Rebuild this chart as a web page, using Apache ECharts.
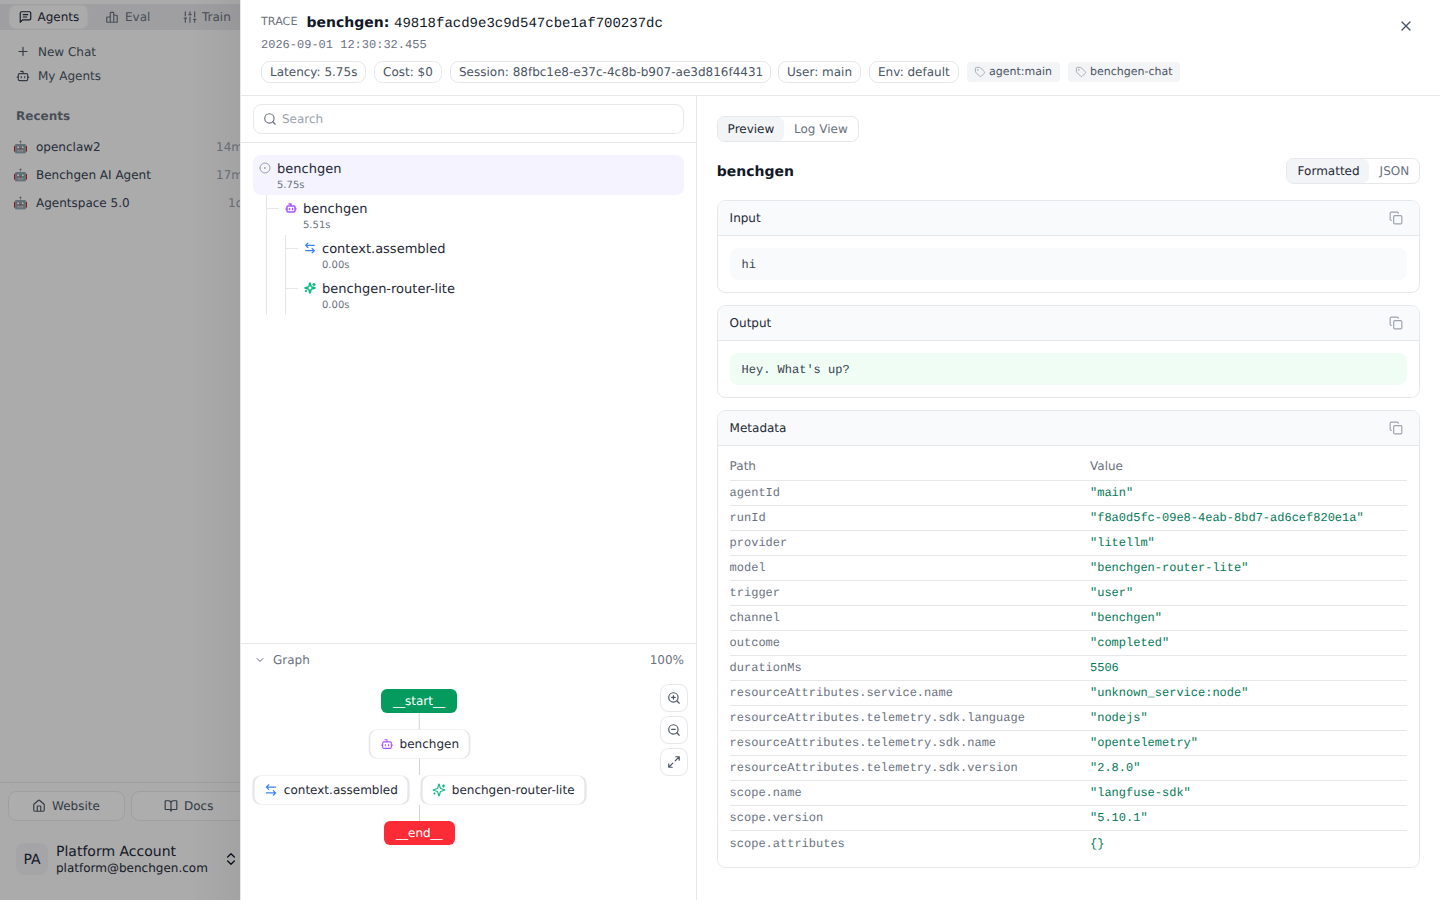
<!DOCTYPE html>
<html><head><meta charset="utf-8"><title>Trace</title>
<style>html,body{margin:0;padding:0;background:#fff}#c{width:1440px;height:900px}svg text{text-rendering:geometricPrecision}</style>
<script src="https://cdn.jsdelivr.net/npm/echarts@6/dist/echarts.min.js"></script></head>
<body><div id="c"></div><script>
const SANS='"DejaVu Sans"', MONO='"Liberation Mono"';
const topTabs=['Agents','Eval','Train'];
const recentNames=['openclaw2','Benchgen AI Agent','Agentspace 5.0'];
const recentTimes=['14m','17m','1d'];
const badgeTexts=['Latency: 5.75s','Cost: $0','Session: 88fbc1e8-e37c-4c8b-b907-ae3d816f4431','User: main','Env: default'];
const tagTexts=['agent:main','benchgen-chat'];
const metaPaths=['agentId','runId','provider','model','trigger','channel','outcome','durationMs','resourceAttributes.service.name','resourceAttributes.telemetry.sdk.language','resourceAttributes.telemetry.sdk.name','resourceAttributes.telemetry.sdk.version','scope.name','scope.version','scope.attributes'];
const metaValues=['"main"','"f8a0d5fc-09e8-4eab-8bd7-ad6cef820e1a"','"litellm"','"benchgen-router-lite"','"user"','"benchgen"','"completed"','5506','"unknown_service:node"','"nodejs"','"opentelemetry"','"2.8.0"','"langfuse-sdk"','"5.10.1"','{}'];
const treeNames=['benchgen','benchgen','context.assembled','benchgen-router-lite'];
const treeTimes=['5.75s','5.51s','0.00s','0.00s'];
const flowNames=['__start__','benchgen','context.assembled','benchgen-router-lite','__end__'];
const flowLinks=[['__start__','benchgen'],['benchgen','joinTop'],['joinBottom','__end__']];

const circ=(x,y,r)=>`M${x-r} ${y}a${r} ${r} 0 1 0 ${2*r} 0a${r} ${r} 0 1 0 ${-2*r} 0z`;
const rr=(x,y,w,h,r)=>`M${x+r} ${y}h${w-2*r}a${r} ${r} 0 0 1 ${r} ${r}v${h-2*r}a${r} ${r} 0 0 1 ${-r} ${r}h${-(w-2*r)}a${r} ${r} 0 0 1 ${-r} ${-r}v${-(h-2*r)}a${r} ${r} 0 0 1 ${r} ${-r}z`;
const I={
 msg:'M21 15a2 2 0 0 1-2 2H7l-4 4V5a2 2 0 0 1 2-2h14a2 2 0 0 1 2 2zM8 8h8M8 12h6',
 bars:rr(3,12,6,9,1)+rr(9,4,6,17,1)+rr(15,9,6,12,1),
 sliders:'M4 21v-7M4 10V3M12 21v-9M12 8V3M20 21v-5M20 12V3M2 14h4M10 8h4M18 16h4',
 plus:'M5 12h14M12 5v14',
 bot:'M12 8V4H8'+rr(4,8,16,12,2)+'M2 14h2M20 14h2M15 13v2M9 13v2',
 search:circ(11,11,8)+'M21 21l-4.3-4.3',
 copy:rr(8,8,14,14,2)+'M4 16c-1.1 0-2-.9-2-2V4c0-1.1.9-2 2-2h10c1.1 0 2 .9 2 2',
 x:'M18 6L6 18M6 6l12 12',
 tag:'M12.586 2.586A2 2 0 0 0 11.172 2H4a2 2 0 0 0-2 2v7.172a2 2 0 0 0 .586 1.414l8.704 8.704a2.426 2.426 0 0 0 3.42 0l6.58-6.58a2.426 2.426 0 0 0 0-3.42z'+circ(7.5,7.5,.5),
 zoomIn:circ(11,11,8)+'M21 21l-4.3-4.3M11 8v6M8 11h6',
 zoomOut:circ(11,11,8)+'M21 21l-4.3-4.3M8 11h6',
 expand:'M15 3h6v6M21 3l-7 7M3 21l7-7M9 21H3v-6',
 arrows:'M8 3L4 7l4 4M4 7h16M16 21l4-4-4-4M20 17H4',
 spark:'M9.937 15.5A2 2 0 0 0 8.5 14.063l-6.135-1.582a.5.5 0 0 1 0-.962L8.5 9.936A2 2 0 0 0 9.937 8.5l1.582-6.135a.5.5 0 0 1 .963 0L14.063 8.5A2 2 0 0 0 15.5 9.937l6.135 1.581a.5.5 0 0 1 0 .964L15.5 14.063a2 2 0 0 0-1.437 1.437l-1.582 6.135a.5.5 0 0 1-.963 0zM20 3v4M22 5h-4M4 17v2M5 18H3',
 house:'M15 21v-8a1 1 0 0 0-1-1h-4a1 1 0 0 0-1 1v8M3 10a2 2 0 0 1 .709-1.528l7-5.999a2 2 0 0 1 2.582 0l7 5.999A2 2 0 0 1 21 10v9a2 2 0 0 1-2 2H5a2 2 0 0 1-2-2z',
 book:'M12 7v14M3 18a1 1 0 0 1-1-1V4a1 1 0 0 1 1-1h5a4 4 0 0 1 4 4 4 4 0 0 1 4-4h5a1 1 0 0 1 1 1v13a1 1 0 0 1-1 1h-6a3 3 0 0 0-3 3 3 3 0 0 0-3-3z',
 updown:'M7 15l5 5 5-5M7 9l5-5 5 5',
 chev:'M6 9l6 6 6-6',
 dot:circ(12,12,10)+circ(12,12,1)
};
Object.keys(I).forEach(k=>echarts.graphic.registerShape('ico_'+k,echarts.graphic.extendPath(I[k],{})));
const els=[]; let Z=1;
function rect(x,y,w,h,o={}){els.push({type:'rect',z:o.z||Z,silent:true,shape:{x,y,width:w,height:h,r:o.r||0},style:{fill:o.fill||'none',stroke:o.stroke||null,lineWidth:o.stroke?1:0}});}
function line(x1,y1,x2,y2,c='#e5e7eb',z){els.push({type:'line',z:z||Z,silent:true,shape:{x1,y1,x2,y2},style:{stroke:c,lineWidth:1}});}
function text(x,y,s,o={}){const dy=(o.size>=13||o.size==10)?1:0;els.push({type:'text',z:o.z||Z,silent:true,x,y:y+dy,style:{text:s,fill:o.color||'#1f2937',font:`${o.weight||'normal'} ${o.size||12}px ${o.font||SANS}`,textAlign:o.align||'left',textVerticalAlign:'middle'}});}
function icon(cx,cy,size,name,color,lw=2,z){const k=size/24;els.push({type:'ico_'+name,z:z||Z,silent:true,x:cx-size/2,y:cy-size/2,scaleX:k,scaleY:k,style:{fill:'none',stroke:color,lineWidth:lw,lineCap:'round',lineJoin:'round'}});}

/* sidebar */
rect(0,0,240,900,{fill:'#f8f8f9'});
rect(0,4,240,26,{fill:'#e6e6e9'});
rect(9,5,79,24,{fill:'#f8f8fa',r:7,stroke:'#ebebed'});
icon(25.5,17,14,'msg','#1f2937',2);
icon(112,17,14,'bars','#6b7280',2);
icon(190,17,14,'sliders','#6b7280',2);
text(37.5,17,topTabs[0],{color:'#1f2937'});
text(125,17,topTabs[1],{color:'#6b7280'});
text(202,17,topTabs[2],{color:'#6b7280'});
icon(23,51.5,14,'plus','#4b5563');
icon(23,76,14,'bot','#4b5563');
text(38,52,'New Chat',{color:'#4b5563'});
text(38,76,'My Agents',{color:'#4b5563'});
text(16,116,'Recents',{color:'#6b7280',weight:'bold'});
recentNames.forEach((n,i)=>{const y=147+28*i;
 text(13,y,'🤖',{size:12,color:'#4b5563'});
 text(36,y,n,{color:'#374151'});
 text(i==2?228:216,y,recentTimes[i],{color:'#9ca3af'});
});
line(0,782.5,240,782.5,'#e5e7eb');
rect(8.5,791.5,116,29,{fill:'#fbfbfc',stroke:'#e5e7eb',r:8});
rect(131.5,791.5,140,29,{fill:'#fbfbfc',stroke:'#e5e7eb',r:8});
icon(39,806,14,'house','#4b5563');
icon(171,806,14,'book','#4b5563');
text(52,805.5,'Website',{color:'#4b5563'});
text(184,805.5,'Docs',{color:'#4b5563'});
rect(16,843,32,32,{fill:'#f0f0f2',r:8});
text(32,859,'PA',{size:14,color:'#1f2937',align:'center'});
text(56,851,'Platform Account',{size:14,color:'#1f2937'});
text(56,868,'platform@benchgen.com',{size:12,color:'#1f2937'});
icon(231,859,16,'updown','#111827');
/* overlay & shadow */
rect(0,0,240,900,{fill:'rgba(0,0,0,0.31)'});
els.push({type:'rect',z:Z,silent:true,shape:{x:190,y:0,width:50,height:900},style:{fill:new echarts.graphic.LinearGradient(0,0,1,0,[{offset:0,color:'rgba(0,0,0,0)'},{offset:1,color:'rgba(0,0,0,0.05)'}])}});
/* panel */
rect(240,0,1200,900,{fill:'#ffffff'});
line(240.5,0,240.5,900,'#e5e7eb');
text(261,21,'TRACE',{size:11.2,color:'#6b7280'});
text(306.5,22,'benchgen:',{size:14,weight:'bold',color:'#111827'});
text(394,22.5,'49818facd9e3c9d547cbe1af700237dc',{size:14,font:MONO,color:'#111827'});
text(261,44.5,'2026-09-01 12:30:32.455',{font:MONO,color:'#6b7280'});
icon(1406,26,16,'x','#4b5563');
const bx=[[261,366],[374,442],[450,771],[778,861],[869,959]];
badgeTexts.forEach((t,i)=>{rect(bx[i][0]+.5,61.5,bx[i][1]-bx[i][0]-1,21,{stroke:'#e5e7eb',r:8,fill:'#fff'});text(bx[i][0]+9,72,t,{color:'#4b5563'});});
const tx=[[967,1060],[1068,1180]];
tagTexts.forEach((t,i)=>{rect(tx[i][0],62,tx[i][1]-tx[i][0],20,{fill:'#f3f4f6',r:4});icon(tx[i][0]+13,72,11,'tag','#9ca3af');text(tx[i][0]+22,71.5,t,{size:11,color:'#4b5563'});});
line(240,95.5,1440,95.5);
line(696.5,96,696.5,900);
/* search + tree */
rect(253.5,104.5,430,29,{stroke:'#e5e7eb',r:8,fill:'#fff'});
icon(270,119,14,'search','#6b7280');
text(282,118.5,'Search',{color:'#9ca3af'});
line(241,142.5,696,142.5);
rect(253,155,431,40,{fill:'#f5f3ff',r:8});
icon(265,168,12,'dot','#9ca3af');
const treeX=[277,303,322,322], treeY=[168.5,208.5,248.5,288.5];
treeNames.forEach((n,i)=>{text(treeX[i],treeY[i],n,{size:13,color:'#1f2937'});text(treeX[i],treeY[i]+16,treeTimes[i],{size:10,color:'#6b7280'});});
line(266.5,195,266.5,315);line(267,208.5,279,208.5);
line(285.5,235,285.5,315);line(286,248.5,298,248.5);line(286,288.5,298,288.5);
icon(291,208,12,'bot','#a855f7',3);
icon(310,248,13,'arrows','#3b82f6',2.3);
icon(310,288,12,'spark','#10b981',3);
/* graph head */
line(241,643.5,696,643.5);
icon(260,660,12,'chev','#6b7280');
text(273,660,'Graph',{color:'#6b7280'});
text(684,660,'100%',{color:'#6b7280',align:'right'});
[[698,'zoomIn',684],[730,'zoomOut',716],[762,'expand',748]].forEach(a=>{rect(660.5,a[2]+.5,27,27,{stroke:'#e5e7eb',r:8,fill:'#fff'});icon(674,a[0],14,a[1],'#4b5563');});
/* node icons */
icon(387,744,13,'bot','#a855f7',2,20);
icon(271,790,14,'arrows','#3b82f6',2,20);
icon(439,790,14,'spark','#10b981',2,20);
/* right */
rect(717.5,116.5,141,25,{stroke:'#e5e7eb',r:7,fill:'#fff'});
rect(718,117,66,24,{fill:'#f3f4f6',r:6});
text(727.6,129,'Preview',{color:'#1f2937'});
text(794,129,'Log View',{color:'#6b7280'});
text(716.7,171,'benchgen',{size:14,weight:'bold',color:'#111827'});
rect(1286.5,158.5,133,25,{stroke:'#e5e7eb',r:7,fill:'#fff'});
rect(1287,159,82,24,{fill:'#f3f4f6',r:6});
text(1297.6,171,'Formatted',{color:'#1f2937'});
text(1379.6,171,'JSON',{color:'#6b7280'});
function card(y,h,title){
 rect(717.5,y+.5,702,h-1,{stroke:'#e5e7eb',r:8,fill:'#fff'});
 rect(718,y+1,701,34,{fill:'#f9fafb',r:[7,7,0,0]});
 line(718,y+35.5,1419,y+35.5);
 text(729.6,y+18,title,{color:'#1f2937'});
 icon(1396,y+18,14,'copy','#9ca3af');
}
card(200,93,'Input');
rect(730,248,677,32,{fill:'#f9fafb',r:8});
text(741.6,265,'hi',{font:MONO,color:'#374151'});
card(305,93,'Output');
rect(730,353,677,32,{fill:'#f0fdf4',r:8});
text(741.6,370,"Hey. What's up?",{font:MONO,color:'#374151'});
card(410,458,'Metadata');
text(729.6,466,'Path',{color:'#6b7280'});
text(1090,466,'Value',{color:'#6b7280'});
line(730,480.5,1407,480.5);
metaPaths.forEach((p,i)=>{const y=493.2+25*i+(i==14?.8:0);
 text(729.6,y,p,{font:MONO,color:'#6b7280'});
 text(1090,y,metaValues[i],{font:MONO,color:'#047857'});
 if(i<14) line(730,505.5+25*i,1407,505.5+25*i);
});

/* flow graph positions */
const flowPos={'__start__':[419,701],'benchgen':[419.5,744],'context.assembled':[331,790],'benchgen-router-lite':[503.5,790],'__end__':[419.5,833],joinTop:[419.5,775],joinBottom:[419.5,805]};
const flowSize=[[76,24],[100,29],[155,29],[164,29],[71,24]];
const flowFill=['#059b5f','#fff','#fff','#fff','#fb2c36'];
const flowLabelX=[12,31,31.5,31.5,12];
const nodes=flowNames.map((n,i)=>{const solid=flowFill[i]!='#fff';const [w,h]=flowSize[i];return {name:n,value:flowPos[n],symbol:'path://'+rr(0,0,w,h,solid?6:8),symbolSize:flowSize[i],
 itemStyle:{color:flowFill[i],borderColor:solid?flowFill[i]:'#e5e7eb',borderWidth:solid?0:1,opacity:1},
 label:{show:true,position:[flowLabelX[i],'50%'],verticalAlign:'middle',align:'left',color:solid?'#fff':'#1f2937',fontSize:12,fontFamily:'DejaVu Sans'}};});
['joinTop','joinBottom'].forEach(n=>nodes.push({name:n,value:flowPos[n],symbolSize:1,itemStyle:{opacity:0},label:{show:false}}));

const chart=echarts.init(document.getElementById('c'),null,{renderer:'svg',width:1440,height:900});
chart.setOption({animation:false,backgroundColor:'#fff',
 grid:{left:0,top:0,width:1440,height:900,show:false},
 xAxis:{type:'value',min:0,max:1440,show:false},
 yAxis:{type:'value',min:0,max:900,inverse:true,show:false},
 graphic:{elements:els},
 series:[{type:'graph',coordinateSystem:'cartesian2d',layout:'none',z:10,silent:true,
  data:nodes,links:flowLinks.map(l=>({source:l[0],target:l[1]})),
  lineStyle:{color:'#d1d5db',width:1,opacity:1,curveness:0},edgeSymbol:['none','none']}]
});
</script></body></html>
